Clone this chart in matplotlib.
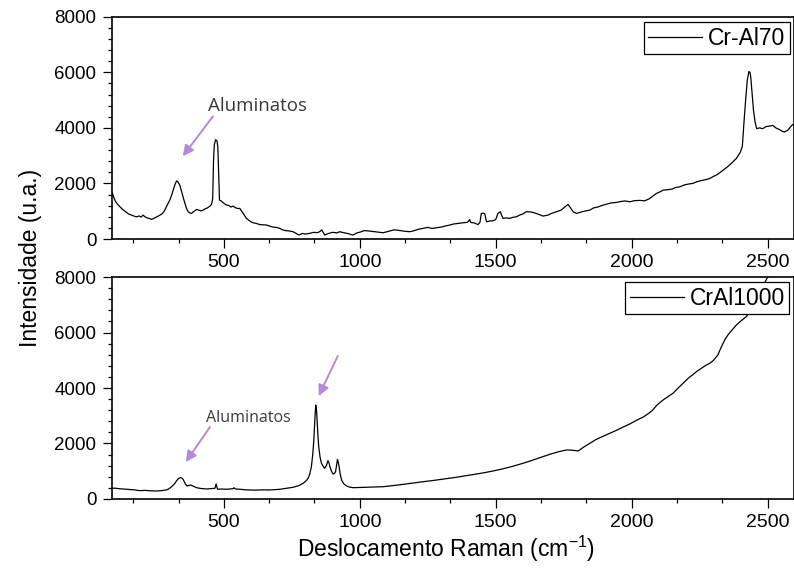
#!/usr/bin/env python3
"""
Raman spectra of the Cr-Al coatings (Cr-Al70 and CrAl1000), stacked panels.
"""

import matplotlib
matplotlib.use('Agg')
import matplotlib.pyplot as plt
from matplotlib.ticker import AutoMinorLocator

# Cr-Al70 spectrum (Raman shift in cm-1, intensity in a.u.)
cral70_shift = [
    90, 95, 100, 108, 118, 128, 136, 142, 150, 158, 166, 174, 180, 188, 196,
    203, 210, 218, 226, 234, 242, 250, 258, 265, 272, 280, 289, 296, 302, 308,
    314, 320, 326, 332, 338, 345, 351, 357, 363, 369, 375, 381, 388, 394, 400,
    408, 416, 424, 432, 440, 449, 455, 459, 462, 465, 470, 475, 478, 481, 484,
    491, 498, 504, 510, 518, 526, 534, 542, 550, 559, 566, 574, 583, 592, 600,
    608, 620, 632, 645, 657, 668, 680, 692, 706, 716, 728, 740, 755, 766, 777,
    788, 800, 816, 830, 845, 855, 860, 865, 871, 885, 900, 915, 926, 940, 955,
    965, 975, 990, 1005, 1015, 1025, 1040, 1055, 1070, 1086, 1100, 1115, 1125,
    1135, 1150, 1165, 1184, 1200, 1215, 1233, 1250, 1265, 1282, 1300, 1315,
    1331, 1345, 1360, 1380, 1395, 1400, 1404, 1408, 1420, 1435, 1442, 1447,
    1455, 1460, 1466, 1478, 1490, 1500, 1508, 1517, 1523, 1527, 1540, 1551,
    1563, 1576, 1590, 1600, 1612, 1625, 1640, 1649, 1660, 1674, 1692, 1705,
    1714, 1723, 1740, 1755, 1766, 1775, 1785, 1797, 1810, 1825, 1846, 1860,
    1875, 1895, 1910, 1925, 1944, 1960, 1975, 1993, 2010, 2030, 2048, 2065,
    2080, 2091, 2105, 2115, 2130, 2150, 2160, 2176, 2195, 2210, 2225, 2238,
    2255, 2270, 2287, 2300, 2315, 2336, 2350, 2362, 2372, 2385, 2395, 2400,
    2407, 2413, 2419, 2425, 2431, 2435, 2438, 2443, 2448, 2454, 2460, 2470,
    2482, 2495, 2505, 2519, 2530, 2545, 2555, 2562, 2575, 2585, 2593, 2600,
]
cral70_int = [
    1650, 1520, 1380, 1260, 1160, 1060, 1000, 950, 900, 870, 840, 810, 800, 830, 790,
    860, 800, 760, 740, 705, 740, 780, 820, 860, 900, 990, 1160, 1300, 1420, 1580,
    1760, 1950, 2090, 2050, 1937, 1700, 1480, 1280, 1100, 980, 940, 920, 980, 1020, 1065,
    1040, 1010, 1040, 1090, 1120, 1184, 1250, 1450, 2800, 3400, 3575, 3530, 3300, 2300, 1400,
    1363, 1300, 1260, 1220, 1210, 1150, 1184, 1130, 1100, 1100, 1000, 880, 742, 680, 620,
    585, 560, 520, 510, 502, 470, 430, 420, 383, 330, 300, 290, 262, 200, 143,
    200, 180, 204, 240, 230, 280, 330, 250, 143, 200, 240, 220, 262, 230, 200,
    170, 143, 220, 260, 300, 298, 280, 260, 240, 226, 260, 300, 330,
    323, 300, 280, 262, 300, 350, 383, 420, 380, 405, 430, 470,
    502, 540, 560, 585, 600, 640, 700, 600, 580, 520, 600, 920,
    930, 900, 620, 650, 656, 700, 920, 980, 820, 742, 760, 742,
    780, 800, 870, 900, 980, 980, 950, 920, 880, 825, 860, 920,
    950, 980, 1040, 1160, 1245, 1120, 980, 920, 960, 1000, 1040, 1120,
    1150, 1220, 1260, 1300, 1316, 1350, 1370, 1339, 1380, 1390, 1374, 1450,
    1560, 1639, 1700, 1758, 1770, 1800, 1850, 1876, 1950, 1980, 2000, 2055,
    2100, 2130, 2177, 2250, 2320, 2475, 2580, 2680, 2773, 2900, 3050, 3132,
    3336, 4200, 4986, 5700, 6027, 6000, 5823, 5200, 4628, 4200, 3970, 4000,
    3970, 4050, 4060, 4090, 4000, 3930, 3870, 3850, 3920, 4050, 4125, 4080,
]

# CrAl1000 spectrum
cral1000_shift = [
    90, 100, 115, 130, 142, 155, 170, 191, 210, 230, 253, 270, 285, 295, 305,
    312, 320, 328, 335, 341, 346, 350, 356, 360, 365, 371, 378, 388, 400, 415,
    436, 450, 467, 470, 472, 474, 477, 490, 510, 534, 538, 542, 560, 580, 596,
    620, 645, 669, 690, 706, 730, 755, 775, 792, 802, 810, 816, 822, 827, 831,
    835, 838, 841, 843, 846, 849, 854, 859, 865, 871, 877, 883, 887, 890, 896,
    902, 907, 911, 915, 918, 921, 924, 928, 933, 941, 951, 962, 975, 1000, 1025,
    1055, 1086, 1110, 1141, 1170, 1200, 1233, 1265, 1295, 1325, 1355, 1385,
    1415, 1448, 1478, 1510, 1540, 1570, 1600, 1630, 1660, 1699, 1730, 1760,
    1780, 1803, 1825, 1846, 1870, 1895, 1919, 1945, 1970, 1993, 2020, 2040,
    2054, 2075, 2090, 2103, 2120, 2135, 2152, 2170, 2189, 2210, 2225, 2238,
    2255, 2270, 2287, 2300, 2317, 2326, 2336, 2345, 2354, 2370, 2385, 2400,
    2421, 2440, 2460, 2480, 2495, 2505, 2520,
]
cral1000_int = [
    385, 390, 370, 360, 350, 345, 330, 300, 310, 295, 288, 300, 320, 350, 420,
    480, 566, 680, 750, 767, 750, 710, 600, 520, 468, 490, 504, 460, 407, 380,
    360, 370, 385, 460, 540, 450, 350, 360, 350, 371, 407, 360, 350, 330, 324,
    320, 330, 324, 340, 350, 385, 422, 480, 566, 650, 746, 900, 1164, 1600, 2126,
    2900, 3387, 3200, 2847, 2300, 1885, 1500, 1285, 1180, 1105, 1200, 1381, 1300, 1164, 1000,
    901, 920, 985, 1250, 1430, 1320, 1164, 900, 685, 550, 468, 430, 407, 415, 422,
    430, 443, 468, 504, 540, 580, 623, 660, 700, 740, 782, 830,
    880, 930, 985, 1050, 1120, 1200, 1285, 1380, 1480, 1610, 1700, 1766,
    1760, 1730, 1880, 2007, 2150, 2260, 2367, 2480, 2600, 2703, 2850, 2940,
    3027, 3180, 3350, 3470, 3600, 3700, 3809, 3990, 4169, 4370, 4480, 4587,
    4700, 4800, 4890, 4990, 5189, 5400, 5610, 5780, 5910, 6100, 6270, 6400,
    6569, 6800, 7200, 7600, 7892, 8100, 8350,
]

# axis settings
X_MIN, X_MAX = 90, 2597
Y_MIN, Y_MAX = 0, 8000
x_ticks = [500, 1000, 1500, 2000, 2500]
y_ticks = [0, 2000, 4000, 6000, 8000]

ARROW_COLOR = '#B388DD'
NOTE_COLOR = '#3A3A3A'

plt.rcParams['font.family'] = ['Liberation Sans', 'DejaVu Sans']


def style_axis(ax):
    """Origin-like frame: outward ticks on left/bottom only"""
    ax.set_xlim(X_MIN, X_MAX)
    ax.set_ylim(Y_MIN, Y_MAX)
    ax.set_xticks(x_ticks)
    ax.set_yticks(y_ticks)
    ax.xaxis.set_minor_locator(AutoMinorLocator(3))
    ax.yaxis.set_minor_locator(AutoMinorLocator(5))
    ax.tick_params(which='both', direction='out', top=False, right=False, width=0.9)
    ax.tick_params(which='major', length=6.5)
    ax.tick_params(which='minor', length=3)
    ax.tick_params(axis='x', labelsize=14, pad=4.5)
    ax.tick_params(axis='y', labelsize=13.5, pad=5)
    for spine in ax.spines.values():
        spine.set_linewidth(1.2)


def add_legend(ax, anchor):
    leg = ax.legend(loc='upper right', bbox_to_anchor=anchor, borderaxespad=0,
                    fontsize=16.5, frameon=True, fancybox=False, framealpha=1,
                    edgecolor='black', handlelength=2.35, handletextpad=0.25,
                    borderpad=0.2)
    leg.get_frame().set_linewidth(0.9)
    return leg


def add_arrow(ax, start, tip):
    ax.annotate('', xy=tip, xytext=start,
                arrowprops=dict(arrowstyle='-|>', color=ARROW_COLOR, lw=1.4,
                                mutation_scale=16, shrinkA=0, shrinkB=0))


def main():
    fig = plt.figure(figsize=(7.94, 5.68), dpi=100)
    ax_top = fig.add_axes([0.1415, 0.5792, 0.8585, 0.3914])
    ax_bot = fig.add_axes([0.1415, 0.1215, 0.8585, 0.3908])

    # Cr-Al70
    ax_top.plot(cral70_shift, cral70_int, color='black', lw=0.9, label='Cr-Al70')
    style_axis(ax_top)
    add_legend(ax_top, (0.994, 0.976))
    ax_top.text(441, 4590, 'Aluminatos', family='Open Sans', fontsize=13.5,
                color=NOTE_COLOR, ha='left', va='baseline')
    add_arrow(ax_top, (460, 4413), (349, 2978))

    # CrAl1000
    ax_bot.plot(cral1000_shift, cral1000_int, color='black', lw=0.9, label='CrAl1000')
    style_axis(ax_bot)
    add_legend(ax_bot, (0.993, 0.977))
    ax_bot.text(434, 2775, 'Aluminatos', family='Open Sans', fontsize=11.5,
                color=NOTE_COLOR, ha='left', va='baseline')
    add_arrow(ax_bot, (449, 2595), (360, 1333))
    add_arrow(ax_bot, (919, 5153), (849, 3712))

    ax_bot.set_xlabel(r'Deslocamento Raman (cm$^{\mathregular{-1}}$)', fontsize=16.5)
    ax_bot.xaxis.set_label_coords(0.49, -0.155)
    fig.text(0.038, 1 - 258 / 568, 'Intensidade (u.a.)', rotation=90,
             fontsize=16.5, ha='center', va='center')

    fig.savefig('out.png', dpi=100)
    plt.close(fig)


if __name__ == '__main__':
    main()
